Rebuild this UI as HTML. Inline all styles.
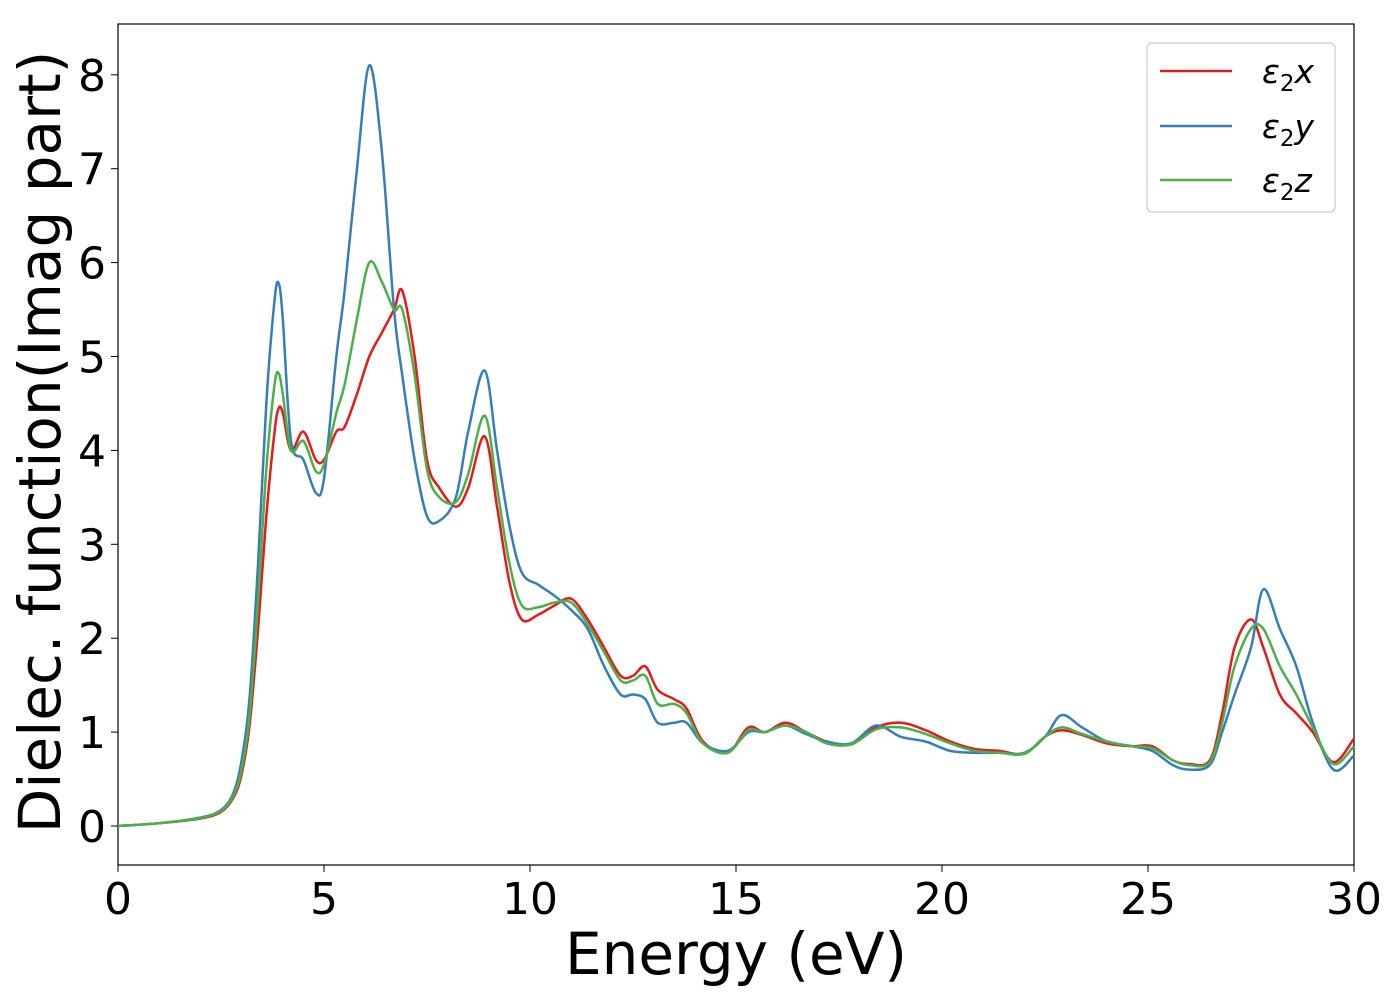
<!DOCTYPE html>
<html><head><meta charset="utf-8"><style>
body{margin:0;background:#fff;}
svg{display:block;font-family:"DejaVu Sans","Liberation Sans",sans-serif;}
</style></head><body>
<svg id="chart" width="1400" height="1000">
<rect x="118" y="24" width="1236" height="841" fill="#fff" stroke="#000" stroke-width="1.2"/>
<g id="series"></g>
<g id="axes"></g>
<text x="736" y="974" font-size="58" text-anchor="middle">Energy (eV)</text>
<text transform="translate(60,442) rotate(-90)" font-size="58" text-anchor="middle">Dielec. function(Imag part)</text>
<g>
<rect x="1147" y="43" width="188" height="169" rx="5" fill="#fff" stroke="#ccc" stroke-width="1.2"/>
<g><line x1="1160" y1="71" x2="1232" y2="71" stroke="#e41a1c" stroke-width="2.5"/><text x="1262" y="83" font-size="33" font-style="italic">ε<tspan font-size="23" font-style="normal" dy="8">2</tspan><tspan dy="-8">x</tspan></text></g>
<g><line x1="1160" y1="126" x2="1232" y2="126" stroke="#377eb8" stroke-width="2.5"/><text x="1262" y="138" font-size="33" font-style="italic">ε<tspan font-size="23" font-style="normal" dy="8">2</tspan><tspan dy="-8">y</tspan></text></g>
<g><line x1="1160" y1="180" x2="1232" y2="180" stroke="#4daf4a" stroke-width="2.5"/><text x="1262" y="192" font-size="33" font-style="italic">ε<tspan font-size="23" font-style="normal" dy="8">2</tspan><tspan dy="-8">z</tspan></text></g>
</g>
</svg>
<script>
const energies=[0,1,2,2.5,2.8,3,3.2,3.4,3.6,3.8,3.9,4.0,4.2,4.5,4.8,5.0,5.3,5.5,5.8,6.1,6.4,6.7,6.9,7.2,7.5,7.8,8.2,8.5,8.9,9.2,9.5,9.8,10.2,10.6,11.0,11.4,11.8,12.2,12.5,12.8,13.1,13.5,13.8,14.2,14.8,15.3,15.7,16.2,16.7,17.2,17.8,18.4,19.0,19.6,20.2,20.8,21.4,22.0,22.5,22.9,23.4,24.0,24.6,25.1,25.6,26.0,26.5,26.8,27.1,27.5,27.8,28.2,28.6,29.0,29.5,30];
const eps2x=[0,0.03,0.08,0.15,0.3,0.55,1.1,2.1,3.3,4.2,4.45,4.4,4.0,4.2,3.9,3.9,4.2,4.25,4.6,5.0,5.25,5.5,5.7,5.0,3.9,3.6,3.4,3.6,4.15,3.4,2.6,2.2,2.25,2.35,2.42,2.2,1.9,1.6,1.6,1.7,1.45,1.35,1.25,0.9,0.78,1.05,1.0,1.1,1.0,0.9,0.87,1.05,1.1,1.02,0.9,0.82,0.8,0.77,0.95,1.02,0.97,0.88,0.85,0.85,0.7,0.66,0.7,1.2,1.9,2.2,1.9,1.4,1.2,1.0,0.68,0.93];
const eps2y=[0,0.03,0.09,0.17,0.35,0.7,1.4,2.8,4.5,5.6,5.78,5.4,4.1,3.9,3.55,3.7,5.0,5.7,7.0,8.1,7.2,5.5,4.8,3.9,3.3,3.25,3.5,4.2,4.85,4.0,3.2,2.7,2.57,2.45,2.3,2.1,1.7,1.4,1.4,1.35,1.1,1.1,1.1,0.88,0.8,1.0,1.0,1.07,0.98,0.9,0.88,1.07,0.95,0.9,0.8,0.78,0.78,0.78,0.95,1.18,1.05,0.9,0.85,0.8,0.65,0.6,0.65,1.0,1.4,1.9,2.52,2.1,1.7,1.1,0.6,0.75];
const eps2z=[0,0.03,0.085,0.16,0.32,0.6,1.2,2.4,3.8,4.7,4.82,4.6,4.0,4.1,3.78,3.85,4.4,4.7,5.4,6.0,5.8,5.5,5.5,4.8,3.8,3.5,3.45,3.75,4.37,3.6,2.8,2.35,2.33,2.38,2.38,2.15,1.85,1.55,1.55,1.6,1.3,1.3,1.2,0.88,0.78,1.02,1.0,1.07,1.0,0.88,0.87,1.03,1.05,0.98,0.88,0.8,0.78,0.77,0.95,1.05,0.98,0.9,0.85,0.83,0.7,0.65,0.68,1.1,1.7,2.1,2.1,1.7,1.4,1.05,0.66,0.85];
const xTicks=[0,5,10,15,20,25,30];
const yTicks=[0,1,2,3,4,5,6,7,8];

const NS="http://www.w3.org/2000/svg";
const X=e=>118+e*(1236/30);
const Y=v=>826-v*93.9;
function path(vals){
  const p=energies.map((e,i)=>[X(e),Y(vals[i])]);
  let d="M"+p[0][0]+","+p[0][1];
  for(let i=0;i<p.length-1;i++){
    const p0=p[Math.max(0,i-1)],p1=p[i],p2=p[i+1],p3=p[Math.min(p.length-1,i+2)];
    const c1=[p1[0]+(p2[0]-p0[0])/6,p1[1]+(p2[1]-p0[1])/6];
    const c2=[p2[0]-(p3[0]-p1[0])/6,p2[1]-(p3[1]-p1[1])/6];
    d+=" C"+c1+" "+c2+" "+p2;
  }
  return d;
}
const sg=document.getElementById("series");
[[eps2x,"#e41a1c","series-eps2x"],[eps2y,"#377eb8","series-eps2y"],[eps2z,"#4daf4a","series-eps2z"]].forEach(s=>{
  const el=document.createElementNS(NS,"path");
  el.setAttribute("d",path(s[0]));
  el.setAttribute("fill","none");el.setAttribute("stroke",s[1]);el.setAttribute("stroke-width","2.5");
  
  
  sg.appendChild(el);
});
const ag=document.getElementById("axes");
xTicks.forEach(t=>{
  const l=document.createElementNS(NS,"line");
  l.setAttribute("x1",X(t));l.setAttribute("x2",X(t));l.setAttribute("y1",865);l.setAttribute("y2",872);l.setAttribute("stroke","#000");
  
  
  ag.appendChild(l);
  const tx=document.createElementNS(NS,"text");
  tx.setAttribute("x",X(t));tx.setAttribute("y",914);tx.setAttribute("font-size","44");tx.setAttribute("text-anchor","middle");
  tx.textContent=t;
  
  
  ag.appendChild(tx);
});
yTicks.forEach(t=>{
  const l=document.createElementNS(NS,"line");
  l.setAttribute("x1",111);l.setAttribute("x2",118);l.setAttribute("y1",Y(t));l.setAttribute("y2",Y(t));l.setAttribute("stroke","#000");
  
  
  ag.appendChild(l);
  const tx=document.createElementNS(NS,"text");
  tx.setAttribute("x",106);tx.setAttribute("y",Y(t)+16);tx.setAttribute("font-size","44");tx.setAttribute("text-anchor","end");
  tx.textContent=t;
  
  
  ag.appendChild(tx);
});
</script>
</body></html>
